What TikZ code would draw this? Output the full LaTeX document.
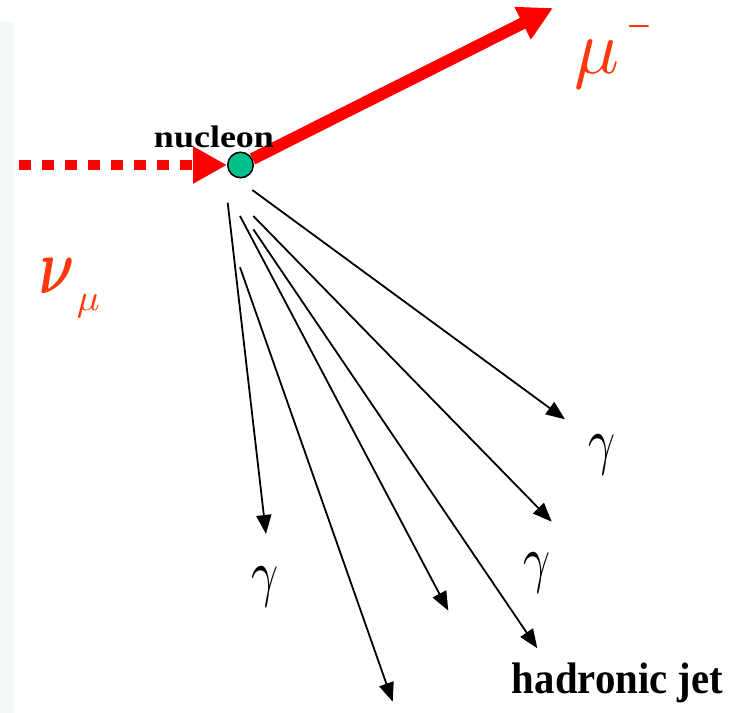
\documentclass[tikz,border=0pt]{standalone}
\usepackage{fontspec}
\usepackage{bm}
\setmainfont{Liberation Serif}
\usetikzlibrary{arrows.meta}
\definecolor{beamred}{RGB}{255,0,0}
\definecolor{lblred}{RGB}{255,55,10}
\definecolor{nucgreen}{RGB}{0,192,140}
\definecolor{stripcol}{RGB}{244,249,246}
\begin{document}
\begin{tikzpicture}[x=1pt,y=-1pt,
  lbl/.style={inner sep=0pt, outer sep=0pt},
  redlbl/.style={lbl, text=lblred},
  jetarrow/.style={draw=black, line width=1.8pt, -{Triangle[length=19pt,width=15pt]}},
  nubeam/.style={draw=beamred, line width=10.7pt, dash pattern=on 12pt off 11pt, -{Triangle[length=34pt,width=35pt]}},
  mubeam/.style={draw=beamred, line width=12pt, -{Triangle[length=34pt,width=34pt]}},
  nucleonball/.style={circle, draw=black, line width=1.5pt, fill=nucgreen, minimum size=25.5pt, inner sep=0pt}
]
\useasboundingbox (0,0) rectangle (732,713);
\fill[stripcol] (0,22) rectangle (14,713);

\node[nucleonball] (nuc) at (240.5,165) {};

% incoming neutrino
\coordinate (nustart) at (19,165);
\draw[nubeam] (nustart) -- (nuc.west);

% outgoing muon
\coordinate (muend) at (553,8);
\draw[mubeam] (nuc) -- (muend);

% hadronic shower
\coordinate (s1) at (252.3,190);   \coordinate (e1) at (565,419.3);
\coordinate (s2) at (253.3,216);   \coordinate (e2) at (551.7,521.7);
\coordinate (s3) at (253.3,229.3); \coordinate (e3) at (537.3,648.3);
\coordinate (s4) at (240,216);     \coordinate (e4) at (448.3,610.7);
\coordinate (s5) at (240,267.3);   \coordinate (e5) at (392.7,701.7);
\coordinate (s6) at (227.7,202.7); \coordinate (e6) at (266,534);
\draw[jetarrow] (s1) -- (e1);
\draw[jetarrow] (s2) -- (e2);
\draw[jetarrow] (s3) -- (e3);
\draw[jetarrow] (s4) -- (e4);
\draw[jetarrow] (s5) -- (e5);
\draw[jetarrow] (s6) -- (e6);

% labels
\node[lbl] (nuclbl) at (214,137) {\resizebox*{120pt}{22pt}{\bfseries nucleon}};
\node[redlbl] (mulbl) at (597.5,64) {\resizebox*{45pt}{48pt}{$\mu$}};
\node[redlbl, anchor=base, font=\fontsize{42}{42}\selectfont] (muminus) at (639,40.5) {−};
\node[redlbl] (nulbl) at (57.5,275.5) {\resizebox*{35pt}{35pt}{$\bm{\nu}$}};
\node[redlbl] (nusub) at (88.5,306.5) {\resizebox*{23pt}{23pt}{$\mu$}};
\node[lbl] (g1) at (601.5,455) {\resizebox*{27pt}{40pt}{$\gamma$}};
\node[lbl] (g2) at (536.5,573) {\resizebox*{27pt}{40pt}{$\gamma$}};
\node[lbl] (g3) at (265,587) {\resizebox*{27pt}{40pt}{$\gamma$}};
\node[lbl] (jetlbl) at (617.5,683) {\resizebox*{211pt}{40pt}{\bfseries hadronic jet}};
\end{tikzpicture}
\end{document}
